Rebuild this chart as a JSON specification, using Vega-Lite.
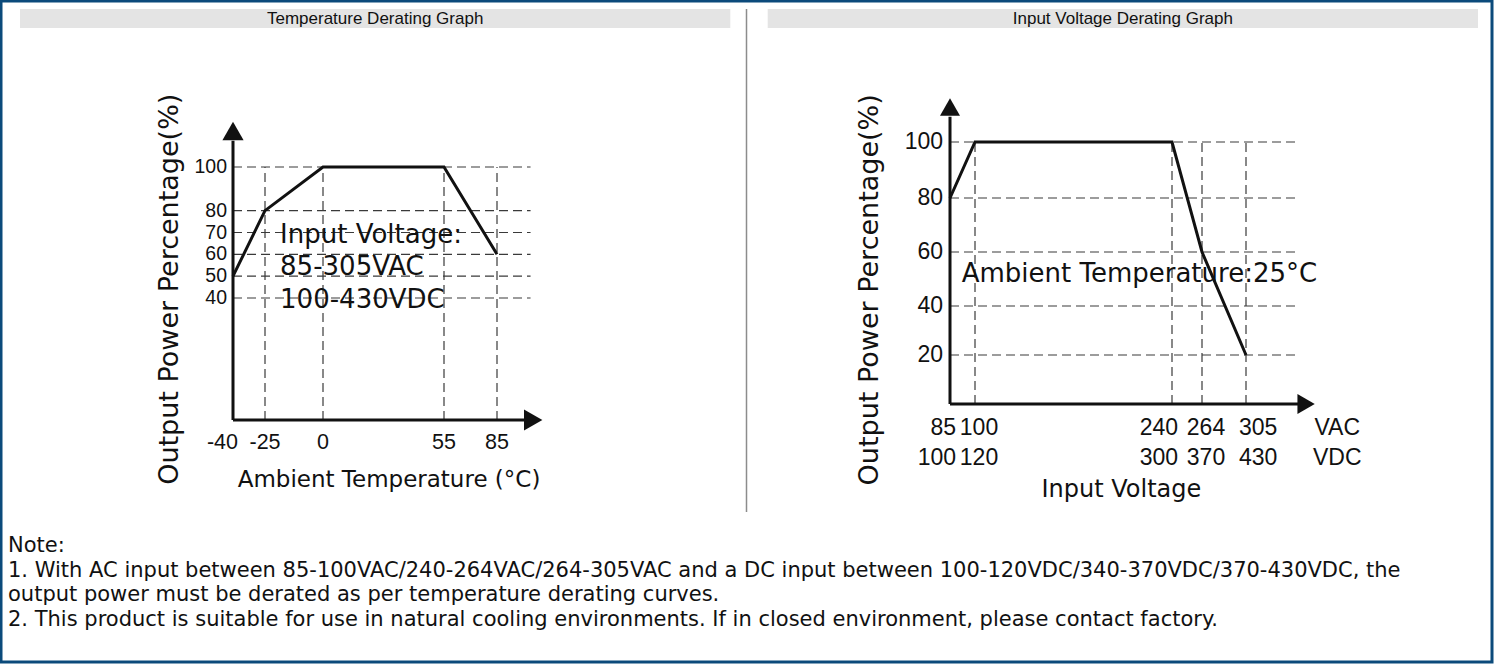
{
  "$schema": "https://vega.github.io/schema/vega-lite/v6.json",
  "width": 1499,
  "height": 664,
  "autosize": {"type": "fit", "contains": "padding"},
  "padding": {"left": 1, "top": 1, "right": 7, "bottom": 2},
  "background": "white",
  "config": {"view": {"stroke": "#0b4a7b", "strokeWidth": 3}},
  "resolve": {"scale": {"x": "independent", "y": "independent"}},
  "layer": [
    {
      "data": {"values": [{"title": "Temperature Derating Graph"}, {"title": "Input Voltage Derating Graph"}]},
      "encoding": {
        "x": {"field": "title", "type": "nominal", "sort": null, "axis": null, "scale": {"range": [19, 1477], "paddingInner": 0.05, "paddingOuter": 0}}
      },
      "layer": [
        {"mark": {"type": "rect", "fill": "#e4e4e4"},
         "encoding": {"y": {"datum": 0, "type": "quantitative", "axis": null, "scale": {"domain": [0, 1], "range": [27, 8]}}, "y2": {"datum": 1}}},
        {"mark": {"type": "text", "font": "Liberation Sans", "fontSize": 17, "color": "#111", "baseline": "middle"},
         "encoding": {"y": {"datum": 0.5, "type": "quantitative", "axis": null, "scale": {"domain": [0, 1], "range": [27, 8]}}, "text": {"field": "title"}}}
      ]
    },
    {
      "data": {"values": [{}]},
      "mark": {"type": "rule", "stroke": "#8c8c8c", "strokeWidth": 1.5},
      "encoding": {
        "x": {"datum": 0.5, "type": "quantitative", "axis": null, "scale": {"domain": [0, 1]}},
        "y": {"datum": 0, "type": "quantitative", "axis": null, "scale": {"domain": [0, 1], "range": [511, 8]}},
        "y2": {"datum": 1}
      }
    },
    {
      "layer": [
        {"data": {"values": [{"p": 40}, {"p": 50}, {"p": 60}, {"p": 70}, {"p": 80}, {"p": 100}]},
         "mark": {"type": "rule", "stroke": "#3a3a3a", "strokeWidth": 1.2, "strokeDash": [9, 5]},
         "encoding": {
           "x": {"datum": -40, "type": "quantitative", "axis": null, "scale": {"domain": [-40, -25, 0, 55, 85], "range": [232, 264, 322, 443, 496], "zero": false, "nice": false}},
           "x2": {"datum": 104},
           "y": {"field": "p", "type": "quantitative", "axis": null, "scale": {"domain": [0, 40, 100], "range": [419, 297, 166], "zero": false, "nice": false}}}},
        {"data": {"values": [{"t": -25}, {"t": 0}, {"t": 55}, {"t": 85}]},
         "mark": {"type": "rule", "stroke": "#3a3a3a", "strokeWidth": 1.2, "strokeDash": [9, 5]},
         "encoding": {
           "x": {"field": "t", "type": "quantitative", "axis": null, "scale": {"domain": [-40, -25, 0, 55, 85], "range": [232, 264, 322, 443, 496], "zero": false, "nice": false}},
           "y": {"datum": 0, "type": "quantitative", "axis": null, "scale": {"domain": [0, 40, 100], "range": [419, 297, 166], "zero": false, "nice": false}},
           "y2": {"datum": 100}}},
        {"data": {"values": [{}]},
         "mark": {"type": "rule", "stroke": "#111", "strokeWidth": 3},
         "encoding": {
           "x": {"datum": -40, "type": "quantitative", "axis": null, "scale": {"domain": [-40, -25, 0, 55, 85], "range": [232, 264, 322, 443, 496], "zero": false, "nice": false}},
           "x2": {"datum": 104},
           "y": {"datum": 0, "type": "quantitative", "axis": null, "scale": {"domain": [0, 40, 100], "range": [419, 297, 166], "zero": false, "nice": false}}}},
        {"data": {"values": [{}]},
         "mark": {"type": "rule", "stroke": "#111", "strokeWidth": 3},
         "encoding": {
           "x": {"datum": -40, "type": "quantitative", "axis": null, "scale": {"domain": [-40, -25, 0, 55, 85], "range": [232, 264, 322, 443, 496], "zero": false, "nice": false}},
           "y": {"datum": 0, "type": "quantitative", "axis": null, "scale": {"domain": [0, 40, 100], "range": [419, 297, 166], "zero": false, "nice": false}},
           "y2": {"datum": 112}}},
        {"data": {"values": [{}]},
         "mark": {"type": "point", "shape": "triangle-up", "size": 450, "filled": true, "color": "#111", "opacity": 1},
         "encoding": {
           "x": {"datum": -40, "type": "quantitative", "axis": null, "scale": {"domain": [-40, -25, 0, 55, 85], "range": [232, 264, 322, 443, 496], "zero": false, "nice": false}},
           "y": {"datum": 116.5, "type": "quantitative", "axis": null, "scale": {"domain": [0, 40, 100], "range": [419, 297, 166], "zero": false, "nice": false}}}},
        {"data": {"values": [{}]},
         "mark": {"type": "point", "shape": "triangle-right", "size": 450, "filled": true, "color": "#111", "opacity": 1},
         "encoding": {
           "x": {"datum": 105.5, "type": "quantitative", "axis": null, "scale": {"domain": [-40, -25, 0, 55, 85], "range": [232, 264, 322, 443, 496], "zero": false, "nice": false}},
           "y": {"datum": 0, "type": "quantitative", "axis": null, "scale": {"domain": [0, 40, 100], "range": [419, 297, 166], "zero": false, "nice": false}}}},
        {"data": {"values": [{"t": -40, "p": 50}, {"t": -25, "p": 80}, {"t": 0, "p": 100}, {"t": 55, "p": 100}, {"t": 85, "p": 60}]},
         "mark": {"type": "line", "color": "#111", "strokeWidth": 3},
         "encoding": {
           "x": {"field": "t", "type": "quantitative", "axis": null, "scale": {"domain": [-40, -25, 0, 55, 85], "range": [232, 264, 322, 443, 496], "zero": false, "nice": false}},
           "y": {"field": "p", "type": "quantitative", "axis": null, "scale": {"domain": [0, 40, 100], "range": [419, 297, 166], "zero": false, "nice": false}}}},
        {"data": {"values": [{"p": 40}, {"p": 50}, {"p": 60}, {"p": 70}, {"p": 80}, {"p": 100}]},
         "mark": {"type": "text", "align": "right", "baseline": "middle", "dx": -6, "font": "Liberation Sans", "fontSize": 19.5, "color": "#111"},
         "encoding": {
           "x": {"datum": -40, "type": "quantitative", "axis": null, "scale": {"domain": [-40, -25, 0, 55, 85], "range": [232, 264, 322, 443, 496], "zero": false, "nice": false}},
           "y": {"field": "p", "type": "quantitative", "axis": null, "scale": {"domain": [0, 40, 100], "range": [419, 297, 166], "zero": false, "nice": false}},
           "text": {"field": "p", "type": "quantitative"}}},
        {"data": {"values": [{"t": -40, "lab": "-40"}]},
         "mark": {"type": "text", "align": "right", "baseline": "middle", "dx": 5, "dy": 23, "font": "Liberation Sans", "fontSize": 21.5, "color": "#111"},
         "encoding": {
           "x": {"field": "t", "type": "quantitative", "axis": null, "scale": {"domain": [-40, -25, 0, 55, 85], "range": [232, 264, 322, 443, 496], "zero": false, "nice": false}},
           "y": {"datum": 0, "type": "quantitative", "axis": null, "scale": {"domain": [0, 40, 100], "range": [419, 297, 166], "zero": false, "nice": false}},
           "text": {"field": "lab"}}},
        {"data": {"values": [{"t": -25, "lab": "-25"}, {"t": 0, "lab": "0"}, {"t": 55, "lab": "55"}, {"t": 85, "lab": "85"}]},
         "mark": {"type": "text", "align": "center", "baseline": "middle", "dy": 23, "font": "Liberation Sans", "fontSize": 21.5, "color": "#111"},
         "encoding": {
           "x": {"field": "t", "type": "quantitative", "axis": null, "scale": {"domain": [-40, -25, 0, 55, 85], "range": [232, 264, 322, 443, 496], "zero": false, "nice": false}},
           "y": {"datum": 0, "type": "quantitative", "axis": null, "scale": {"domain": [0, 40, 100], "range": [419, 297, 166], "zero": false, "nice": false}},
           "text": {"field": "lab"}}},
        {"data": {"values": [{"title": "Output Power Percentage(%)"}]},
         "mark": {"type": "text", "angle": 270, "align": "center", "baseline": "middle", "font": "DejaVu Sans", "fontSize": 27, "color": "#111"},
         "encoding": {
           "x": {"datum": -69.5, "type": "quantitative", "axis": null, "scale": {"domain": [-40, -25, 0, 55, 85], "range": [232, 264, 322, 443, 496], "zero": false, "nice": false}},
           "y": {"datum": 44, "type": "quantitative", "axis": null, "scale": {"domain": [0, 40, 100], "range": [419, 297, 166], "zero": false, "nice": false}},
           "text": {"field": "title"}}},
        {"data": {"values": [{"title": "Ambient Temperature (°C)"}]},
         "mark": {"type": "text", "align": "center", "baseline": "middle", "dy": 60, "font": "DejaVu Sans", "fontSize": 23, "color": "#111"},
         "encoding": {
           "x": {"datum": 30, "type": "quantitative", "axis": null, "scale": {"domain": [-40, -25, 0, 55, 85], "range": [232, 264, 322, 443, 496], "zero": false, "nice": false}},
           "y": {"datum": 0, "type": "quantitative", "axis": null, "scale": {"domain": [0, 40, 100], "range": [419, 297, 166], "zero": false, "nice": false}},
           "text": {"field": "title"}}},
        {"data": {"values": [{"note": ["Input Voltage:", "85-305VAC", "100-430VDC"]}]},
         "mark": {"type": "text", "align": "left", "baseline": "middle", "lineHeight": 32.5, "font": "DejaVu Sans", "fontSize": 26, "color": "#111"},
         "encoding": {
           "x": {"datum": -18.5, "type": "quantitative", "axis": null, "scale": {"domain": [-40, -25, 0, 55, 85], "range": [232, 264, 322, 443, 496], "zero": false, "nice": false}},
           "y": {"datum": 69, "type": "quantitative", "axis": null, "scale": {"domain": [0, 40, 100], "range": [419, 297, 166], "zero": false, "nice": false}},
           "text": {"field": "note"}}}
      ]
    },
    {
      "layer": [
        {"data": {"values": [{"p": 20}, {"p": 40}, {"p": 60}, {"p": 80}, {"p": 100}]},
         "mark": {"type": "rule", "stroke": "#3a3a3a", "strokeWidth": 1.2, "strokeDash": [9, 5]},
         "encoding": {
           "x": {"datum": 85, "type": "quantitative", "axis": null, "scale": {"domain": [85, 100, 240, 264, 305], "range": [949, 974, 1171, 1201, 1245], "zero": false, "nice": false}},
           "x2": {"datum": 352},
           "y": {"field": "p", "type": "quantitative", "axis": null, "scale": {"domain": [0, 20, 40, 60, 80, 100], "range": [403, 354, 305, 251, 197, 141], "zero": false, "nice": false}}}},
        {"data": {"values": [{"v": 100}, {"v": 240}, {"v": 264}, {"v": 305}]},
         "mark": {"type": "rule", "stroke": "#3a3a3a", "strokeWidth": 1.2, "strokeDash": [9, 5]},
         "encoding": {
           "x": {"field": "v", "type": "quantitative", "axis": null, "scale": {"domain": [85, 100, 240, 264, 305], "range": [949, 974, 1171, 1201, 1245], "zero": false, "nice": false}},
           "y": {"datum": 0, "type": "quantitative", "axis": null, "scale": {"domain": [0, 20, 40, 60, 80, 100], "range": [403, 354, 305, 251, 197, 141], "zero": false, "nice": false}},
           "y2": {"datum": 100}}},
        {"data": {"values": [{}]},
         "mark": {"type": "rule", "stroke": "#111", "strokeWidth": 3},
         "encoding": {
           "x": {"datum": 85, "type": "quantitative", "axis": null, "scale": {"domain": [85, 100, 240, 264, 305], "range": [949, 974, 1171, 1201, 1245], "zero": false, "nice": false}},
           "x2": {"datum": 356},
           "y": {"datum": 0, "type": "quantitative", "axis": null, "scale": {"domain": [0, 20, 40, 60, 80, 100], "range": [403, 354, 305, 251, 197, 141], "zero": false, "nice": false}}}},
        {"data": {"values": [{}]},
         "mark": {"type": "rule", "stroke": "#111", "strokeWidth": 3},
         "encoding": {
           "x": {"datum": 85, "type": "quantitative", "axis": null, "scale": {"domain": [85, 100, 240, 264, 305], "range": [949, 974, 1171, 1201, 1245], "zero": false, "nice": false}},
           "y": {"datum": 0, "type": "quantitative", "axis": null, "scale": {"domain": [0, 20, 40, 60, 80, 100], "range": [403, 354, 305, 251, 197, 141], "zero": false, "nice": false}},
           "y2": {"datum": 109}}},
        {"data": {"values": [{}]},
         "mark": {"type": "point", "shape": "triangle-up", "size": 400, "filled": true, "color": "#111", "opacity": 1},
         "encoding": {
           "x": {"datum": 85, "type": "quantitative", "axis": null, "scale": {"domain": [85, 100, 240, 264, 305], "range": [949, 974, 1171, 1201, 1245], "zero": false, "nice": false}},
           "y": {"datum": 112.5, "type": "quantitative", "axis": null, "scale": {"domain": [0, 20, 40, 60, 80, 100], "range": [403, 354, 305, 251, 197, 141], "zero": false, "nice": false}}}},
        {"data": {"values": [{}]},
         "mark": {"type": "point", "shape": "triangle-right", "size": 400, "filled": true, "color": "#111", "opacity": 1},
         "encoding": {
           "x": {"datum": 361, "type": "quantitative", "axis": null, "scale": {"domain": [85, 100, 240, 264, 305], "range": [949, 974, 1171, 1201, 1245], "zero": false, "nice": false}},
           "y": {"datum": 0, "type": "quantitative", "axis": null, "scale": {"domain": [0, 20, 40, 60, 80, 100], "range": [403, 354, 305, 251, 197, 141], "zero": false, "nice": false}}}},
        {"data": {"values": [{"v": 85, "p": 80}, {"v": 100, "p": 100}, {"v": 240, "p": 100}, {"v": 264, "p": 60}, {"v": 305, "p": 20}]},
         "mark": {"type": "line", "color": "#111", "strokeWidth": 3},
         "encoding": {
           "x": {"field": "v", "type": "quantitative", "axis": null, "scale": {"domain": [85, 100, 240, 264, 305], "range": [949, 974, 1171, 1201, 1245], "zero": false, "nice": false}},
           "y": {"field": "p", "type": "quantitative", "axis": null, "scale": {"domain": [0, 20, 40, 60, 80, 100], "range": [403, 354, 305, 251, 197, 141], "zero": false, "nice": false}}}},
        {"data": {"values": [{"p": 20}, {"p": 40}, {"p": 60}, {"p": 80}, {"p": 100}]},
         "mark": {"type": "text", "align": "right", "baseline": "middle", "dx": -7, "font": "Liberation Sans", "fontSize": 23, "color": "#111"},
         "encoding": {
           "x": {"datum": 85, "type": "quantitative", "axis": null, "scale": {"domain": [85, 100, 240, 264, 305], "range": [949, 974, 1171, 1201, 1245], "zero": false, "nice": false}},
           "y": {"field": "p", "type": "quantitative", "axis": null, "scale": {"domain": [0, 20, 40, 60, 80, 100], "range": [403, 354, 305, 251, 197, 141], "zero": false, "nice": false}},
           "text": {"field": "p", "type": "quantitative"}}},
        {"data": {"values": [{"v": 85, "ac": "85", "dc": "100"}, {"v": 100, "ac": "100", "dc": "120"}, {"v": 240, "ac": "240", "dc": "300"}, {"v": 264, "ac": "264", "dc": "370"}, {"v": 305, "ac": "305", "dc": "430"}]},
         "encoding": {
           "x": {"field": "v", "type": "quantitative", "axis": null, "scale": {"domain": [85, 100, 240, 264, 305], "range": [949, 974, 1171, 1201, 1245], "zero": false, "nice": false}},
           "y": {"datum": 0, "type": "quantitative", "axis": null, "scale": {"domain": [0, 20, 40, 60, 80, 100], "range": [403, 354, 305, 251, 197, 141], "zero": false, "nice": false}}},
         "layer": [
           {"transform": [{"filter": "datum.v == 85 || datum.v == 240"}],
            "mark": {"type": "text", "align": "right", "baseline": "middle", "dx": 6, "dy": 24, "font": "Liberation Sans", "fontSize": 23, "color": "#111"},
            "encoding": {"text": {"field": "ac"}}},
           {"transform": [{"filter": "datum.v == 85 || datum.v == 240"}],
            "mark": {"type": "text", "align": "right", "baseline": "middle", "dx": 6, "dy": 54, "font": "Liberation Sans", "fontSize": 23, "color": "#111"},
            "encoding": {"text": {"field": "dc"}}},
           {"transform": [{"filter": "datum.v == 100 || datum.v == 264"}],
            "mark": {"type": "text", "align": "center", "baseline": "middle", "dx": 4, "dy": 24, "font": "Liberation Sans", "fontSize": 23, "color": "#111"},
            "encoding": {"text": {"field": "ac"}}},
           {"transform": [{"filter": "datum.v == 100 || datum.v == 264"}],
            "mark": {"type": "text", "align": "center", "baseline": "middle", "dx": 4, "dy": 54, "font": "Liberation Sans", "fontSize": 23, "color": "#111"},
            "encoding": {"text": {"field": "dc"}}},
           {"transform": [{"filter": "datum.v == 305"}],
            "mark": {"type": "text", "align": "left", "baseline": "middle", "dx": -7, "dy": 24, "font": "Liberation Sans", "fontSize": 23, "color": "#111"},
            "encoding": {"text": {"field": "ac"}}},
           {"transform": [{"filter": "datum.v == 305"}],
            "mark": {"type": "text", "align": "left", "baseline": "middle", "dx": -7, "dy": 54, "font": "Liberation Sans", "fontSize": 23, "color": "#111"},
            "encoding": {"text": {"field": "dc"}}}
         ]},
        {"data": {"values": [{"units": ["VAC", "VDC"]}]},
         "mark": {"type": "text", "align": "center", "baseline": "middle", "dy": 24, "lineHeight": 30, "font": "Liberation Sans", "fontSize": 23, "color": "#111"},
         "encoding": {
           "x": {"datum": 390, "type": "quantitative", "axis": null, "scale": {"domain": [85, 100, 240, 264, 305], "range": [949, 974, 1171, 1201, 1245], "zero": false, "nice": false}},
           "y": {"datum": 0, "type": "quantitative", "axis": null, "scale": {"domain": [0, 20, 40, 60, 80, 100], "range": [403, 354, 305, 251, 197, 141], "zero": false, "nice": false}},
           "text": {"field": "units"}}},
        {"data": {"values": [{"title": "Output Power Percentage(%)"}]},
         "mark": {"type": "text", "angle": 270, "align": "center", "baseline": "middle", "font": "DejaVu Sans", "fontSize": 27, "color": "#111"},
         "encoding": {
           "x": {"datum": 37, "type": "quantitative", "axis": null, "scale": {"domain": [85, 100, 240, 264, 305], "range": [949, 974, 1171, 1201, 1245], "zero": false, "nice": false}},
           "y": {"datum": 46, "type": "quantitative", "axis": null, "scale": {"domain": [0, 20, 40, 60, 80, 100], "range": [403, 354, 305, 251, 197, 141], "zero": false, "nice": false}},
           "text": {"field": "title"}}},
        {"data": {"values": [{"title": "Input Voltage"}]},
         "mark": {"type": "text", "align": "center", "baseline": "middle", "dy": 86, "font": "DejaVu Sans", "fontSize": 24, "color": "#111"},
         "encoding": {
           "x": {"datum": 204, "type": "quantitative", "axis": null, "scale": {"domain": [85, 100, 240, 264, 305], "range": [949, 974, 1171, 1201, 1245], "zero": false, "nice": false}},
           "y": {"datum": 0, "type": "quantitative", "axis": null, "scale": {"domain": [0, 20, 40, 60, 80, 100], "range": [403, 354, 305, 251, 197, 141], "zero": false, "nice": false}},
           "text": {"field": "title"}}},
        {"data": {"values": [{"note": "Ambient Temperature:25°C"}]},
         "mark": {"type": "text", "align": "left", "baseline": "middle", "font": "DejaVu Sans", "fontSize": 26, "color": "#111"},
         "encoding": {
           "x": {"datum": 92, "type": "quantitative", "axis": null, "scale": {"domain": [85, 100, 240, 264, 305], "range": [949, 974, 1171, 1201, 1245], "zero": false, "nice": false}},
           "y": {"datum": 52, "type": "quantitative", "axis": null, "scale": {"domain": [0, 20, 40, 60, 80, 100], "range": [403, 354, 305, 251, 197, 141], "zero": false, "nice": false}},
           "text": {"field": "note"}}}
      ]
    },
    {
      "data": {"values": [
        {"line": 1, "text": "Note:"},
        {"line": 2, "text": "1. With AC input between 85-100VAC/240-264VAC/264-305VAC and a DC input between 100-120VDC/340-370VDC/370-430VDC, the"},
        {"line": 3, "text": "output power must be derated as per temperature derating curves."},
        {"line": 4, "text": "2. This product is suitable for use in natural cooling environments. If in closed environment, please contact factory."}
      ]},
      "mark": {"type": "text", "align": "left", "baseline": "middle", "dx": 7, "font": "DejaVu Sans", "fontSize": 21, "color": "#111"},
      "encoding": {
        "x": {"datum": 0, "type": "quantitative", "axis": null, "scale": {"domain": [0, 1]}},
        "y": {"field": "line", "type": "ordinal", "axis": null, "scale": {"type": "point", "range": [545, 618.5], "padding": 0}},
        "text": {"field": "text"}
      }
    }
  ]
}
